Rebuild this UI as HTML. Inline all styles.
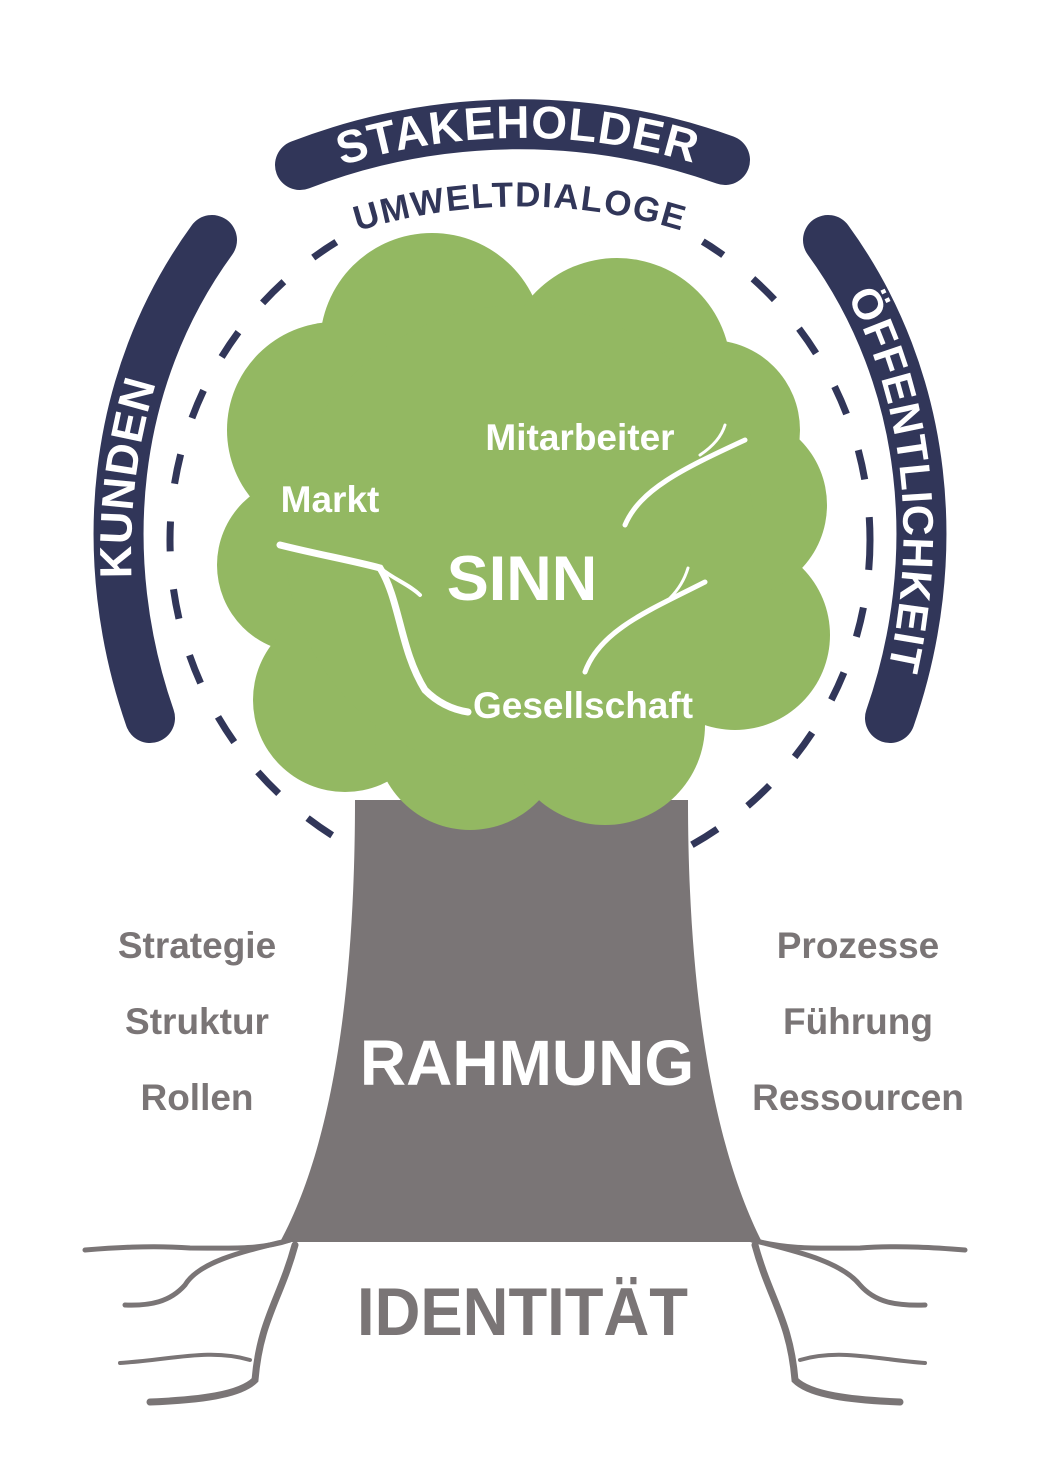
<!DOCTYPE html>
<html><head><meta charset="utf-8"><style>
html,body{margin:0;padding:0;background:#fff;}
svg{display:block;}
text{font-family:"Liberation Sans",sans-serif;font-weight:bold;}
</style></head><body>
<svg width="1039" height="1470" viewBox="0 0 1039 1470" xmlns="http://www.w3.org/2000/svg">
<defs>
<path id="pStake" d="M300,165 A610,610 0 0 1 725,160"/>
<path id="pStakeT" d="M296,182 A600,600 0 0 1 740,179"/>
<path id="pKun" d="M150,718 C95,560 110,380 212,240"/>
<path id="pKunT" d="M156,745 C110,560 124,380 232,232"/>
<path id="pOef" d="M828,240 C930,380 945,560 890,718"/>
<path id="pOefT" d="M808,232 C914,380 928,560 868,742"/>
<path id="pUm" d="M290,257 A549,549 0 0 1 750,257"/>
</defs>
<circle cx="520" cy="540" r="350" fill="none" stroke="#313659" stroke-width="7" stroke-dasharray="30 38"/>
<path d="M335,240 A345,345 0 0 1 705,238" fill="none" stroke="#fff" stroke-width="50"/>
<path d="M355,800 L688,800 C688,1000 715,1150 762,1242 L280,1242 C330,1150 355,1000 355,800 Z" fill="#7a7576"/>
<g fill="none" stroke="#7a7576" stroke-linecap="round">
<path d="M290,1240 C260,1250 230,1248 190,1248 C150,1245 110,1248 85,1250" stroke-width="5"/>
<path d="M290,1240 C250,1250 200,1260 185,1285 C170,1302 150,1306 125,1305" stroke-width="5"/>
<path d="M295,1245 C280,1300 260,1320 255,1380 C240,1395 200,1400 150,1402" stroke-width="7"/>
<path d="M250,1360 C210,1348 170,1360 120,1363" stroke-width="4"/>
<path d="M752,1240 C790,1250 820,1248 860,1248 C900,1245 940,1248 965,1250" stroke-width="5"/>
<path d="M752,1240 C790,1250 840,1260 860,1285 C875,1302 895,1306 925,1305" stroke-width="5"/>
<path d="M755,1245 C770,1300 790,1320 795,1380 C810,1395 850,1400 900,1402" stroke-width="7"/>
<path d="M800,1360 C840,1348 880,1360 925,1363" stroke-width="4"/>
</g>
<g fill="#93b862">
<circle cx="432" cy="345" r="112"/>
<circle cx="617" cy="372" r="114"/>
<circle cx="335" cy="430" r="108"/>
<circle cx="305" cy="565" r="88"/>
<circle cx="345" cy="700" r="92"/>
<circle cx="470" cy="735" r="95"/>
<circle cx="605" cy="725" r="100"/>
<circle cx="735" cy="635" r="95"/>
<circle cx="735" cy="505" r="92"/>
<circle cx="710" cy="430" r="90"/>
<circle cx="520" cy="540" r="235"/>
</g>
<g fill="none" stroke="#fff" stroke-linecap="round">
<path d="M280,545 C320,555 350,560 380,568 C400,600 400,650 425,690 C440,705 455,710 468,712" stroke-width="7"/>
<path d="M380,568 C395,580 410,585 420,595" stroke-width="4"/>
<path d="M625,525 C640,490 680,470 745,440" stroke-width="5"/>
<path d="M700,455 C715,445 722,435 725,425" stroke-width="3"/>
<path d="M585,672 C600,630 650,610 705,582" stroke-width="5"/>
<path d="M670,598 C680,588 685,578 688,568" stroke-width="3"/>
</g>
<g fill="none" stroke="#313659" stroke-width="50" stroke-linecap="round">
<use href="#pStake"/>
<use href="#pKun"/>
<use href="#pOef"/>
</g>
<text font-size="46" fill="#fff" letter-spacing="1"><textPath href="#pStakeT" startOffset="50%" text-anchor="middle">STAKEHOLDER</textPath></text>
<text font-size="45" fill="#fff" letter-spacing="1"><textPath href="#pKunT" startOffset="50%" text-anchor="middle">KUNDEN</textPath></text>
<text font-size="43" fill="#fff" letter-spacing="1"><textPath href="#pOefT" startOffset="50%" text-anchor="middle">ÖFFENTLICHKEIT</textPath></text>
<text font-size="35" fill="#313659" letter-spacing="1.5"><textPath href="#pUm" startOffset="50%" text-anchor="middle">UMWELTDIALOGE</textPath></text>
<g fill="#fff" text-anchor="middle">
<text x="522" y="600" font-size="63">SINN</text>
<text x="330" y="512" font-size="37">Markt</text>
<text x="580" y="450" font-size="37">Mitarbeiter</text>
<text x="583" y="718" font-size="37">Gesellschaft</text>
<text x="527" y="1085" font-size="64">RAHMUNG</text>
</g>
<g fill="#7a7576" text-anchor="middle" font-size="37">
<text x="197" y="958">Strategie</text>
<text x="197" y="1034">Struktur</text>
<text x="197" y="1110">Rollen</text>
<text x="858" y="958">Prozesse</text>
<text x="858" y="1034">Führung</text>
<text x="858" y="1110">Ressourcen</text>
</g>
<text x="357" y="1335" font-size="68" fill="#7a7576" textLength="331" lengthAdjust="spacingAndGlyphs">IDENTITÄT</text>
</svg>
</body></html>
